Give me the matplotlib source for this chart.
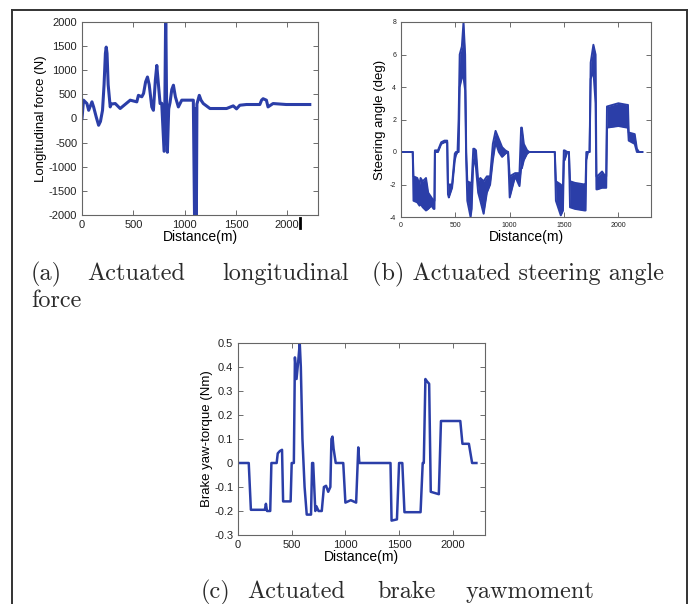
import matplotlib.pyplot as plt
from matplotlib.lines import Line2D

plt.rcParams['axes.unicode_minus'] = False

# (a) actuated longitudinal force
dist_a = [0, 15, 48, 65, 97, 113, 140, 162, 180, 200, 215, 228, 236, 244, 255, 275, 285,
          324, 372, 470, 534, 550, 583, 600, 620, 638, 655, 680, 696, 715, 729, 745,
          761, 777, 800, 808, 816, 824, 832, 845, 858, 875, 891, 910, 939, 972, 1085,
          1098, 1104, 1108, 1114, 1120, 1143, 1160, 1182, 1247, 1409, 1474, 1506, 1538,
          1603, 1733, 1750, 1765, 1797, 1813, 1862, 1990, 2220]
force_a = [0, 380, 310, 170, 345, 240, 20, -140, -60, 170, 700, 1350, 1480, 1350, 700, 240,
           300, 310, 207, 380, 345, 480, 450, 520, 760, 860, 700, 240, 170, 800, 1100,
           700, 310, 315, -680, 400, 2300, 400, -700, 200, 330, 600, 690, 450, 240, 380, 380,
           -2300, 200, -2300, -2300, 300, 480, 380, 310, 207, 207, 262, 200, 275,
           290, 290, 380, 410, 380, 240, 310, 290, 290]

# (b) actuated steering angle (chattering band: lower / upper envelope)
dist_b = [0, 108, 115, 150, 170, 180, 200, 230, 250, 280, 300, 308, 312, 340, 370, 400,
          425, 432, 440, 470, 495, 505, 520, 530, 540, 560, 575, 590, 600, 610, 640,
          650, 665, 675, 690, 710, 730, 760, 790, 820, 845, 870, 900, 930, 960, 985,
          1000, 1050, 1090, 1105, 1112, 1130, 1160, 1180, 1415, 1425, 1470, 1490, 1498,
          1505, 1530, 1545, 1555, 1600, 1690, 1698, 1705, 1720, 1735, 1745, 1770, 1790,
          1798, 1805, 1850, 1880, 1888, 1895, 2000, 2080, 2088, 2095, 2150, 2170, 2190,
          2220]
steer_lo = [0, 0, -3.0, -3.1, -3.3, -3.2, -3.4, -3.6, -3.5, -3.3, -3.5, -3.5, 0, 0, 0.5, 0.6,
            0.6, -2.6, -2.8, -2.2, -0.5, -0.2, 0, 0, 4.0, 4.6, 4.6, 3.8, -0.5, -3.0, -4.0,
            -3.5, -0.5, -0.5, -1.0, -2.5, -3.0, -3.8, -2.5, -2.0, -0.5, 0.6, 0, -0.3, -0.1, 0,
            -2.8, -1.5, -2.1, -1.0, -1.0, -0.5, -0.1, 0, 0, -3.0, -3.9, -3.6, -0.5,
            -0.5, 0, 0, -3.4, -3.5, -3.6, -3.6, -0.5, 0, 0, 4.5, 5.0, 3.0,
            -2.3, -2.3, -2.2, -2.2, -2.2, 1.5, 1.6, 1.5, 1.5, 0.7, 0.5, 0, 0,
            0]
steer_hi = [0, 0, -1.5, -1.6, -2.0, -1.6, -1.8, -1.6, -2.5, -2.8, -3.0, -3.0, 0.1, 0.1, 0.6, 0.7,
            0.7, -2.0, -2.0, -2.0, -0.1, 0, 0, 2.0, 6.0, 6.5, 8.0, 6.0, 0, -1.8, -1.9,
            -1.9, 0.2, 0.2, 0.1, -1.8, -1.6, -1.8, -1.5, -1.5, 0.5, 1.3, 0.8, 0.3, 0.1, 0,
            -1.5, -1.3, -1.3, 1.5, 1.5, 0.5, 0.1, 0, 0, -1.8, -2.0, -2.2, 0.1,
            0.1, 0, 0, -1.8, -1.9, -2.0, -2.0, 0, 0, 0, 5.5, 6.6, 6.0,
            -1.5, -1.5, -1.2, -1.5, -1.5, 2.8, 3.0, 2.9, 2.9, 1.2, 1.1, 0.2, 0,
            0]

# (c) actuated brake yaw moment
dist_c = [0, 100, 120, 250, 260, 270, 300, 311, 360, 370, 390, 410, 420, 490, 500, 520,
          530, 545, 560, 575, 585, 590, 600, 620, 640, 680, 690, 700, 710, 720, 730,
          750, 780, 800, 820, 840, 860, 870, 880, 890, 910, 980, 1000, 1050, 1100,
          1120, 1130, 1420, 1430, 1480, 1500, 1530, 1550, 1700, 1720, 1730, 1745,
          1760, 1780, 1795, 1870, 1890, 2070, 2090, 2150, 2180, 2220]
yaw_c = [0, 0, -0.195, -0.195, -0.17, -0.2, -0.2, 0, 0, 0.04, 0.05, 0.055, -0.16, -0.16, 0, 0,
         0.44, 0.35, 0.42, 0.5, 0.4, 0.3, 0.1, -0.1, -0.215, -0.215, 0, 0, -0.1, -0.2, -0.18,
         -0.2, -0.2, -0.1, -0.095, -0.12, -0.1, 0.1, 0.11, 0.06, 0, 0, -0.165, -0.155, -0.165,
         0.065, 0, 0, -0.24, -0.235, 0, 0, -0.205, -0.205, 0, 0, 0.35,
         0.34, 0.33, -0.12, -0.13, 0.175, 0.175, 0.08, 0.08, 0, 0]

blue = '#2b3ea8'
sans = ['Liberation Sans', 'DejaVu Sans']
serif = ['cmr10', 'DejaVu Serif']

fig = plt.figure(figsize=(6.96, 6.04), dpi=100)


def style_axes(ax, tick_size):
    ax.tick_params(direction='in', top=True, right=True, length=3.5, width=0.6,
                   colors='#555555', labelcolor='#222222', labelsize=tick_size)
    for sp in ax.spines.values():
        sp.set_color('#666666')
        sp.set_linewidth(0.8)
    for lab in ax.get_xticklabels() + ax.get_yticklabels():
        lab.set_family(sans)


ax_a = fig.add_axes([82/696, 1-215/604, 236/696, 193/604])
ax_a.plot(dist_a, force_a, color=blue, lw=2.2)
ax_a.set_xlim(0, 2300)
ax_a.set_ylim(-2000, 2000)
ax_a.set_xticks([0, 500, 1000, 1500, 2000])
ax_a.set_yticks(range(-2000, 2001, 500))
ax_a.set_xlabel('Distance(m)', family=sans, fontsize=10, labelpad=0)
ax_a.set_ylabel('Longitudinal force (N)', family=sans, fontsize=9.5, labelpad=1)
style_axes(ax_a, 8)

ax_b = fig.add_axes([401/696, 1-217/604, 250/696, 195/604])
ax_b.fill_between(dist_b, steer_lo, steer_hi, color=blue, lw=0)
ax_b.plot(dist_b, steer_lo, color=blue, lw=1.4)
ax_b.plot(dist_b, steer_hi, color=blue, lw=1.4)
ax_b.set_xlim(0, 2300)
ax_b.set_ylim(-4, 8)
ax_b.set_xticks([0, 500, 1000, 1500, 2000])
ax_b.set_yticks(range(-4, 9, 2))
ax_b.set_xlabel('Distance(m)', family=sans, fontsize=10, labelpad=1)
ax_b.set_ylabel('Steering angle (deg)', family=sans, fontsize=9.5, labelpad=3)
style_axes(ax_b, 5)

ax_c = fig.add_axes([238/696, 1-535/604, 247/696, 192/604])
ax_c.plot(dist_c, yaw_c, color=blue, lw=1.8)
ax_c.set_xlim(0, 2300)
ax_c.set_ylim(-0.3, 0.5)
ax_c.set_xticks([0, 500, 1000, 1500, 2000])
ax_c.set_yticks([-0.3, -0.2, -0.1, 0, 0.1, 0.2, 0.3, 0.4, 0.5])
ax_c.set_yticklabels(['-0.3', '-0.2', '-0.1', '0', '0.1', '0.2', '0.3', '0.4', '0.5'])
ax_c.set_xlabel('Distance(m)', family=sans, fontsize=10, labelpad=0)
ax_c.set_ylabel('Brake yaw-torque (Nm)', family=sans, fontsize=9.5, labelpad=1)
style_axes(ax_c, 8)

# captions, word by word to mimic the justified LaTeX lines
cap = dict(family=serif, fontsize=17.5, color='#2a2a2a', va='baseline', ha='left')
for word, px in [('(a)', 31), ('Actuated', 87), ('longitudinal', 222)]:
    fig.text(px/696, 1-280/604, word, **cap)
fig.text(31/696, 1-307/604, 'force', **cap)
fig.text(372/696, 1-280/604, '(b) Actuated steering angle', **cap)
for word, px in [('(c)', 201), ('Actuated', 247), ('brake', 377), ('yawmoment', 465)]:
    fig.text(px/696, 1-598/604, word, **cap)

# page frame and the small stray mark near the last tick of (a)
frame = dict(color='#333333', lw=1.4, transform=fig.transFigure)
fig.add_artist(Line2D([12/696, 12/696], [0, 1-10/604], **frame))
fig.add_artist(Line2D([687/696, 687/696], [0, 1-10/604], **frame))
fig.add_artist(Line2D([12/696, 687/696], [1-10/604, 1-10/604], **frame))
fig.add_artist(Line2D([300/696, 300/696], [1-228/604, 1-218/604], color='black', lw=2,
                      transform=fig.transFigure))

fig.savefig('out.png', dpi=100)
